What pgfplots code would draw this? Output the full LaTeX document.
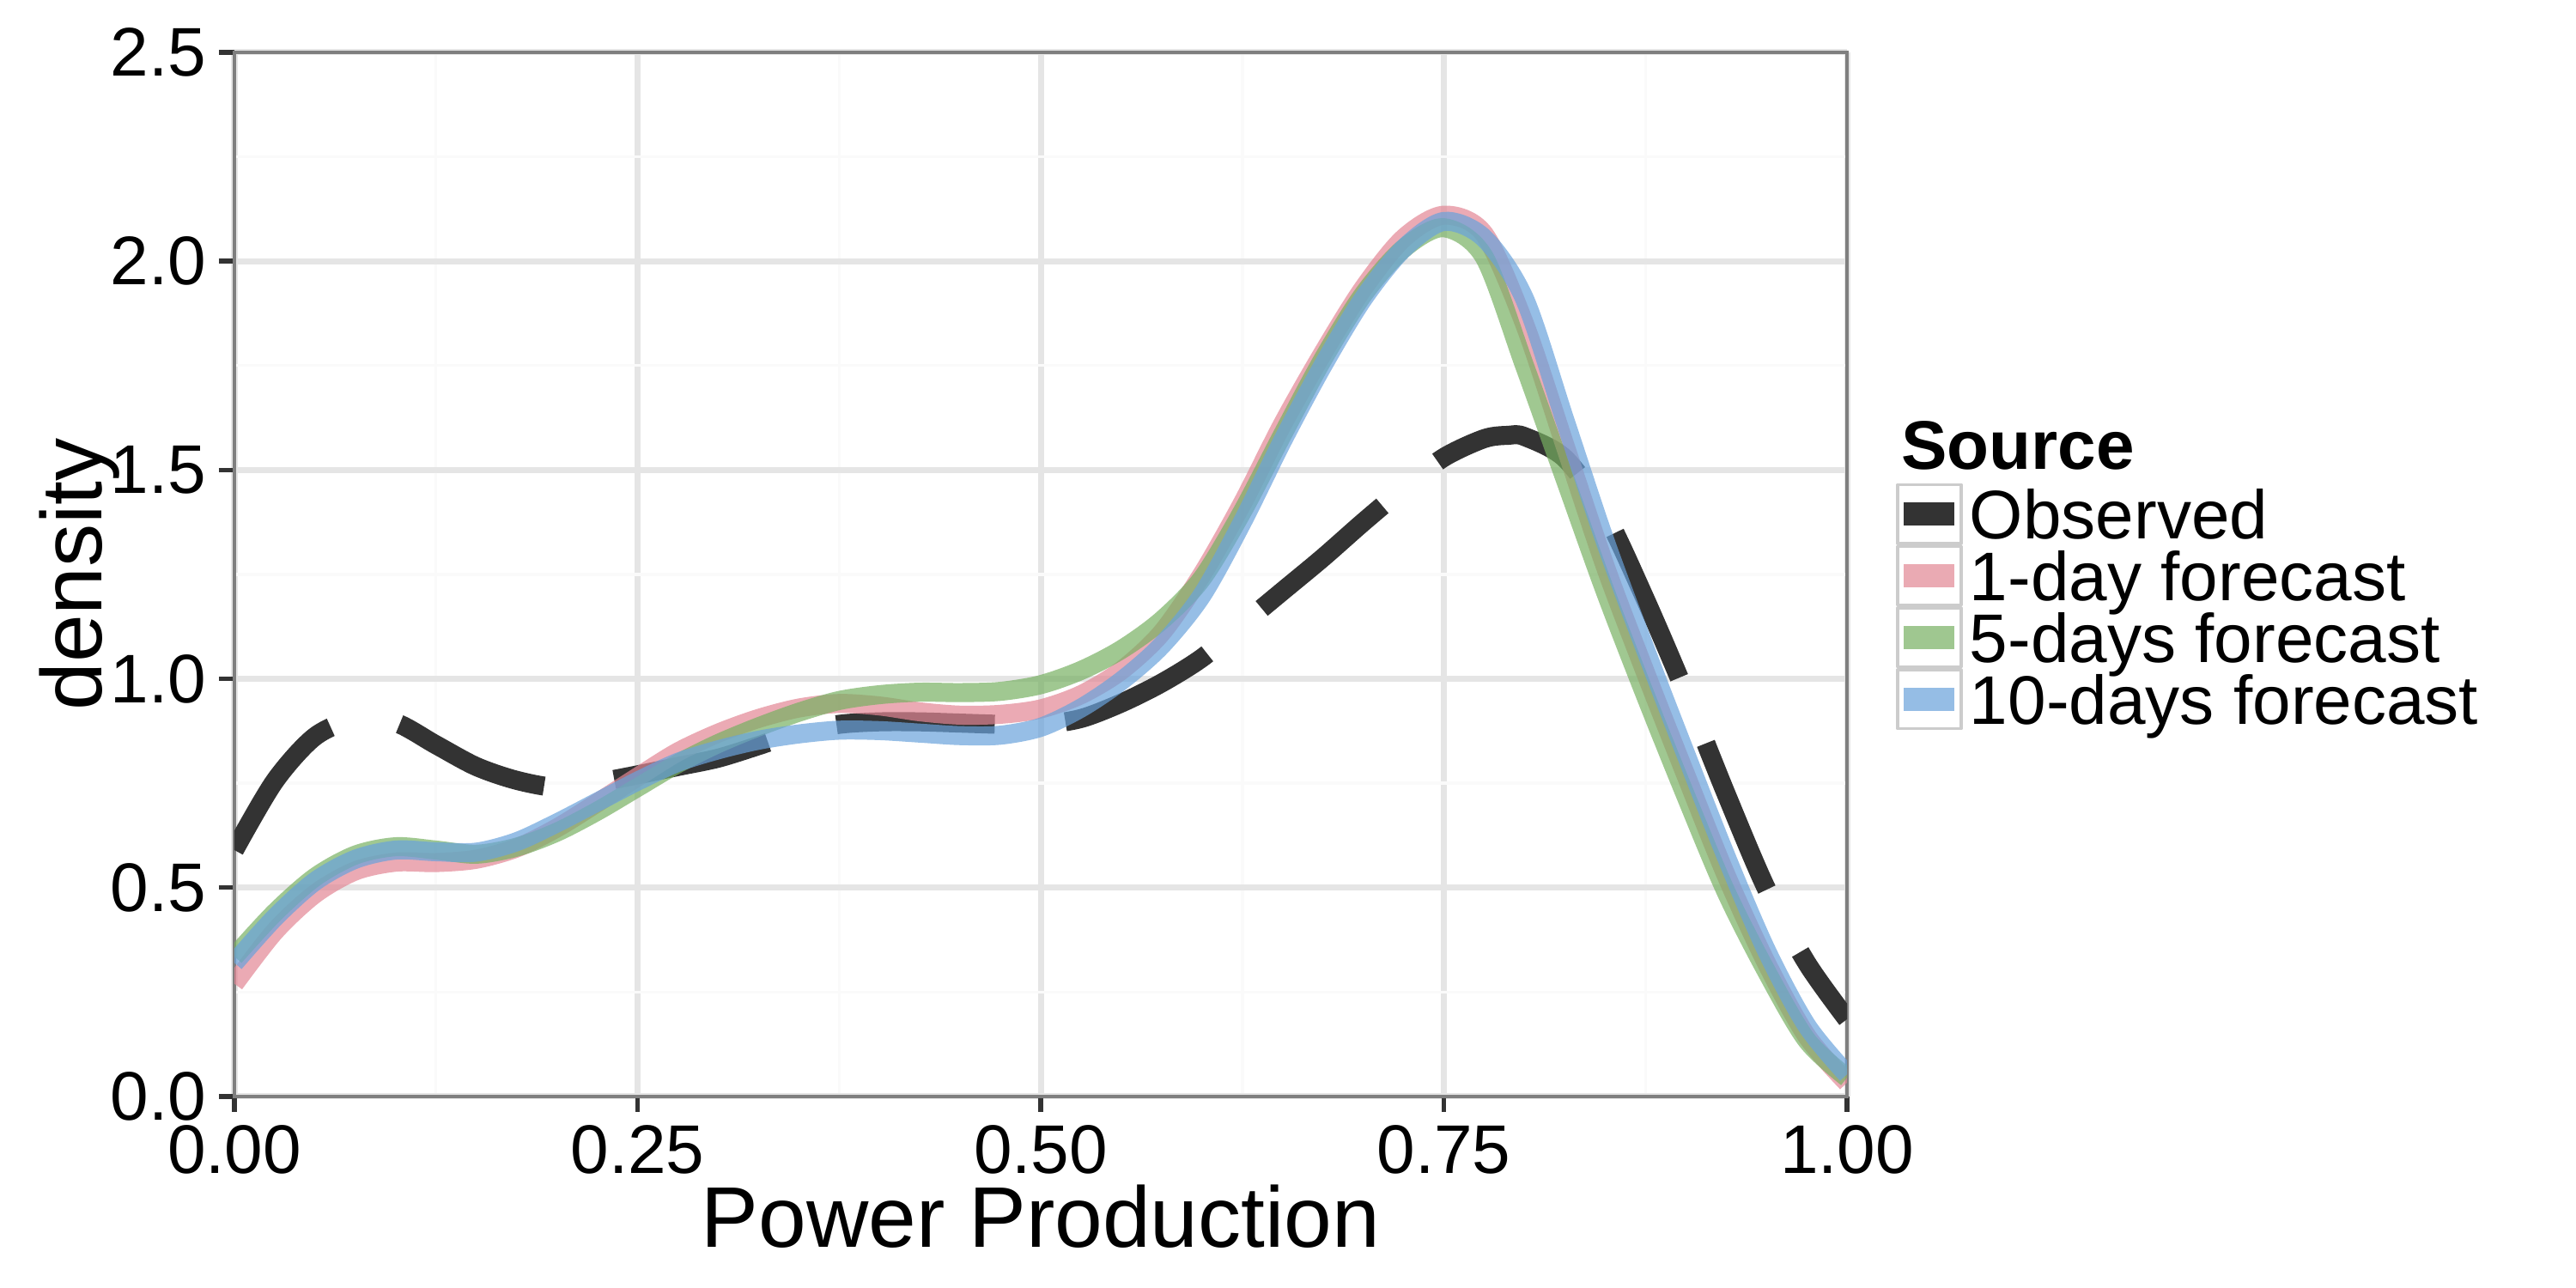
\documentclass[border=0pt]{standalone}
\usepackage{fontspec}
\setmainfont{Liberation Sans}
\usepackage{pgfplots}
\usepackage{pgfplotstable}
\pgfplotsset{compat=1.18}

\definecolor{obs}{HTML}{333333}
\definecolor{pinkc}{RGB}{226,134,148}
\definecolor{greenc}{RGB}{119,176,98}
\definecolor{bluec}{RGB}{105,162,219}
\definecolor{gridmaj}{HTML}{E5E5E5}
\definecolor{gridmin}{HTML}{FAFAFA}
\definecolor{panelborder}{HTML}{7F7F7F}
\definecolor{keyborder}{HTML}{CCCCCC}

\pgfplotstableread{
x y
0.000 0.590
0.025 0.755
0.050 0.862
0.075 0.903
0.100 0.895
0.125 0.842
0.150 0.790
0.175 0.757
0.200 0.740
0.225 0.752
0.250 0.770
0.275 0.790
0.300 0.810
0.325 0.840
0.350 0.872
0.375 0.891
0.400 0.897
0.425 0.897
0.450 0.894
0.475 0.891
0.500 0.890
0.525 0.905
0.550 0.942
0.575 0.990
0.600 1.050
0.625 1.130
0.650 1.210
0.675 1.290
0.700 1.375
0.725 1.456
0.750 1.530
0.775 1.575
0.790 1.583
0.800 1.580
0.825 1.528
0.850 1.395
0.875 1.190
0.900 0.965
0.925 0.725
0.950 0.498
0.975 0.320
1.000 0.185
}\observed

\pgfplotstableread{
x y
0.000 0.270
0.025 0.395
0.050 0.485
0.075 0.540
0.100 0.561
0.125 0.560
0.150 0.568
0.175 0.595
0.200 0.643
0.225 0.703
0.250 0.765
0.275 0.825
0.300 0.870
0.325 0.905
0.350 0.930
0.375 0.941
0.400 0.935
0.425 0.921
0.450 0.913
0.475 0.915
0.500 0.928
0.525 0.962
0.550 1.020
0.575 1.110
0.600 1.250
0.625 1.420
0.650 1.610
0.675 1.780
0.700 1.935
0.725 2.055
0.750 2.110
0.775 2.065
0.800 1.850
0.825 1.560
0.850 1.270
0.875 1.015
0.900 0.770
0.925 0.530
0.950 0.320
0.975 0.145
1.000 0.033
}\oneday

\pgfplotstableread{
x y
0.000 0.335
0.025 0.440
0.050 0.525
0.075 0.578
0.100 0.598
0.125 0.590
0.150 0.580
0.175 0.597
0.200 0.633
0.225 0.683
0.250 0.740
0.275 0.797
0.300 0.845
0.325 0.885
0.350 0.920
0.375 0.948
0.400 0.962
0.425 0.968
0.450 0.967
0.475 0.970
0.500 0.986
0.525 1.020
0.550 1.070
0.575 1.140
0.600 1.240
0.625 1.400
0.650 1.585
0.675 1.765
0.700 1.920
0.725 2.030
0.750 2.080
0.775 2.010
0.800 1.750
0.825 1.480
0.850 1.210
0.875 0.960
0.900 0.720
0.925 0.490
0.950 0.300
0.975 0.135
1.000 0.045
}\fivedays

\pgfplotstableread{
x y
0.000 0.320
0.025 0.428
0.050 0.515
0.075 0.568
0.100 0.590
0.125 0.586
0.150 0.585
0.175 0.610
0.200 0.655
0.225 0.705
0.250 0.755
0.275 0.800
0.300 0.830
0.325 0.853
0.350 0.868
0.375 0.877
0.400 0.876
0.425 0.870
0.450 0.864
0.475 0.865
0.500 0.884
0.525 0.930
0.550 0.995
0.575 1.080
0.600 1.200
0.625 1.375
0.650 1.570
0.675 1.750
0.700 1.910
0.725 2.030
0.750 2.095
0.775 2.055
0.800 1.910
0.825 1.620
0.850 1.330
0.875 1.070
0.900 0.820
0.925 0.575
0.950 0.350
0.975 0.170
1.000 0.053
}\tendays

\begin{document}
\begin{tikzpicture}
\useasboundingbox (-1.82cm,-1.4867cm) rectangle (18.18cm,8.5133cm);
\begin{axis}[
  at={(0,0)}, anchor=south west,
  scale only axis, width=12.52cm, height=8.107cm,
  xmin=0, xmax=1, ymin=0, ymax=2.5,
  xtick={0,0.25,0.5,0.75,1}, xticklabels={0.00,0.25,0.50,0.75,1.00},
  ytick={0,0.5,1,1.5,2,2.5}, yticklabels={0.0,0.5,1.0,1.5,2.0,2.5},
  minor xtick={0.125,0.375,0.625,0.875},
  minor ytick={0.25,0.75,1.25,1.75,2.25},
  grid=both,
  major grid style={draw=gridmaj, line width=1.33pt},
  minor grid style={draw=gridmin, line width=0.66pt},
  tick align=outside,
  tick pos=left,
  major tick length=0.12cm,
  minor tick length=0pt,
  major tick style={draw=obs, line width=1pt},
  axis line style={draw=panelborder, line width=0.6pt},
  ticklabel style={font=\fontsize{15.2}{15.2}\selectfont, inner sep=0pt, text=black},
  xticklabel style={yshift=-0.1cm},
  yticklabel style={xshift=-0.093cm},
  xlabel={Power Production}, ylabel={density},
  label style={font=\fontsize{19}{19}\selectfont, inner sep=0pt},
  xlabel style={at={(axis description cs:0.5,-0.1447)}, anchor=base},
  ylabel style={at={(axis description cs:-0.0825,0.5)}, anchor=base},
  legend style={at={(axis description cs:1.0282,0.5875)}, anchor=north west,
    draw=none, fill=none, inner sep=0pt, outer sep=0pt, row sep=0pt,
    column sep=0.027cm, font=\fontsize{15.2}{15.2}\selectfont,
    nodes={inner sep=0pt, text height=0.716em, text depth=0pt}},
  legend cell align=left,
  legend image code/.code={
    \draw[draw=keyborder, fill=white, line width=0.66pt, solid, opacity=1] (0cm,-0.1633cm) rectangle (0.493cm,0.2933cm);
    \draw[solid, line width=0.18cm, line cap=butt] (0.05cm,0.065cm) -- (0.443cm,0.065cm);
  },
]
\addplot[draw=obs, line width=4.2pt, dash pattern=on 1.23cm off 0.55cm, line join=round, smooth] table[x=x,y=y] {\observed};
\addlegendentry{Observed}
\addplot[draw=pinkc, draw opacity=0.7, line width=4.2pt, line join=round, smooth] table[x=x,y=y] {\oneday};
\addlegendentry{1-day forecast}
\addplot[draw=greenc, draw opacity=0.7, line width=4.2pt, line join=round, smooth] table[x=x,y=y] {\fivedays};
\addlegendentry{5-days forecast}
\addplot[draw=bluec, draw opacity=0.7, line width=4.2pt, line join=round, smooth] table[x=x,y=y] {\tendays};
\addlegendentry{10-days forecast}
\end{axis}
\node[anchor=base west, inner sep=0pt, font=\bfseries\fontsize{15.2}{15.2}\selectfont] at (12.933cm,4.867cm) {Source};
\end{tikzpicture}
\end{document}
